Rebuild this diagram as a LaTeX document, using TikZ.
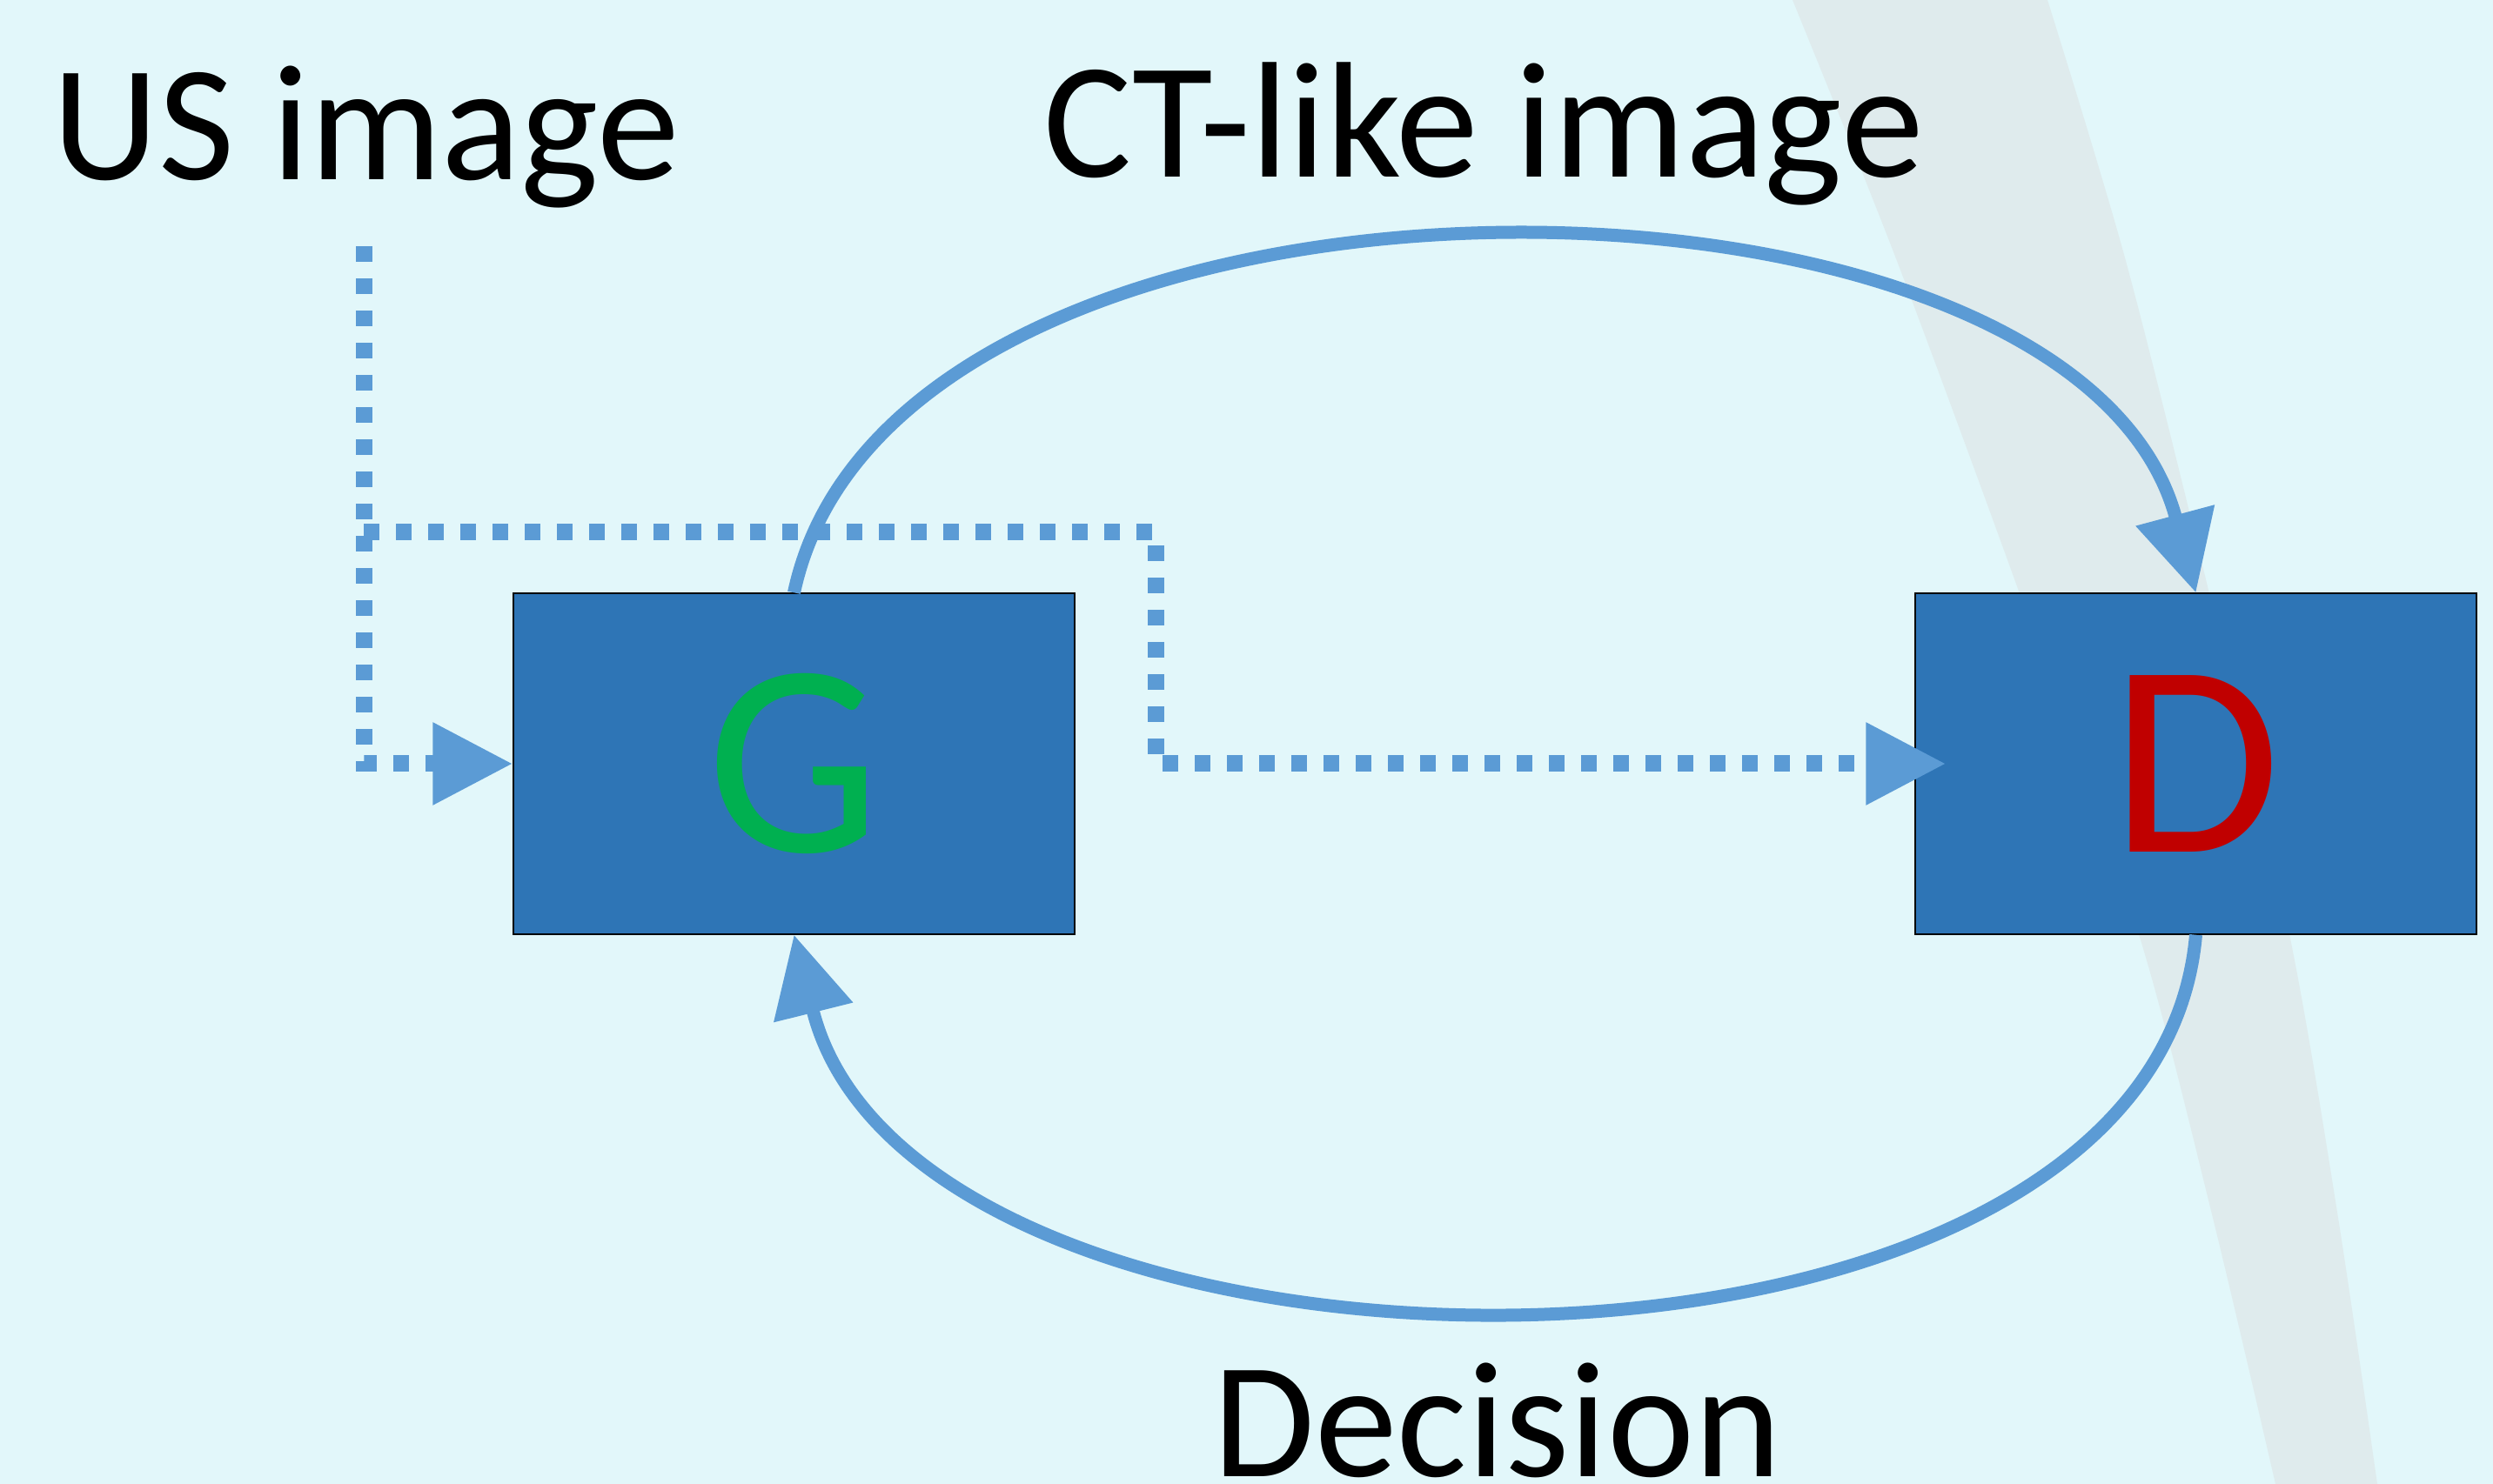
\documentclass[tikz,border=0pt]{standalone}
\usepackage{fontspec}
\setmainfont{Carlito}
\usetikzlibrary{arrows.meta}

\definecolor{bgcyan}{HTML}{E2F7FA}
\definecolor{bandgrey}{HTML}{DFEBED}
\definecolor{boxblue}{HTML}{2E75B6}
\definecolor{flowblue}{HTML}{5B9BD5}
\definecolor{ggreen}{HTML}{00B050}
\definecolor{dred}{HTML}{C00000}

\begin{document}
\begin{tikzpicture}[
  net/.style = {draw=black, line width=0.4pt, fill=boxblue, minimum width=6.45cm,
                minimum height=3.92cm, inner sep=0pt, font=\fontsize{90}{90}\selectfont},
  lbl/.style = {inner sep=0pt, anchor=base west, font=\fontsize{54}{60}\selectfont},
  flow/.style = {draw=flowblue, line width=0.15cm, -{Triangle[length=9.2mm,width=9mm]}},
  dotflow/.style = {flow, line width=0.19cm, dash pattern=on 0.18cm off 0.19cm}
]
\useasboundingbox (0,0) rectangle (28.65,17.06);
\fill[bgcyan] (0,0) rectangle (28.65,17.06); % background
\fill[bandgrey] plot[smooth] coordinates {(20.60,17.06) (21.80,14.06) (23.27,10.07) (24.58,6.32) (25.43,3.06) (26.15,0)}
  -- plot[smooth] coordinates {(27.32,0) (26.87,3.06) (26.31,6.32) (25.43,10.07) (24.43,14.06) (23.53,17.06)} -- cycle; % band

% generator and discriminator
\node[net, text=ggreen] (G) at (9.125,8.28) {\raisebox{-0.5mm}{G}};
\node[net, text=dred] (D) at (25.235,8.28) {\raisebox{-0.5mm}{D}};

% labels
\node[lbl] (usimg) at (0.60,14.99) {US image};
\node[lbl] (ctimg) at (11.99,15.02) {CT-like image};
\node[lbl] (dec) at (13.94,0.08) {Decision};

\coordinate (usin) at (4.18,14.23);
\coordinate (split) at (4.18,10.94);
\coordinate (hop) at (13.28,10.94);

% dotted inputs
\draw[dotflow] (usin) |- (G.west);
\draw[dotflow] (split) -- (hop) |- ([xshift=3.6mm]D.west);

% G -> D and D -> G
\draw[flow] (G.north) to[out=78,in=105,looseness=0.88] (D.north);
\draw[flow] (D.south) to[out=-95,in=-76,looseness=0.92] (G.south);
\end{tikzpicture}
\end{document}
